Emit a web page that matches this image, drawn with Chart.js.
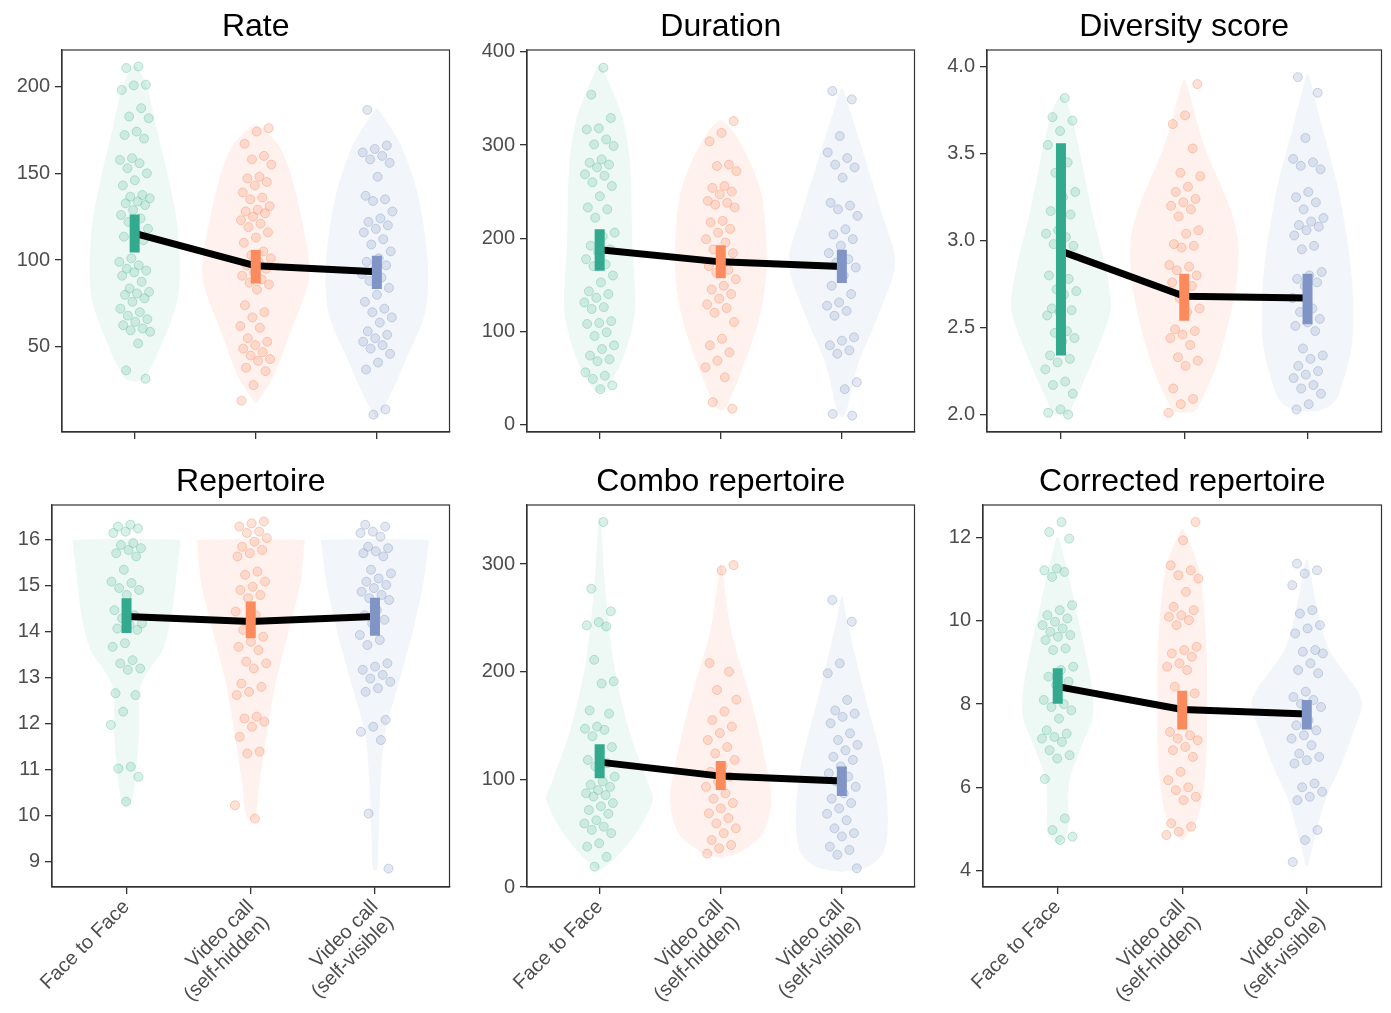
<!DOCTYPE html>
<html>
<head>
<meta charset="utf-8">
<script src="https://cdn.jsdelivr.net/npm/chart.js@4.4.1/dist/chart.umd.min.js"></script>
<style>
  html, body { margin: 0; padding: 0; background: #fff; }
  body { width: 1391px; height: 1013px; position: relative; overflow: hidden; }
  .panel { position: absolute; }
</style>
</head>
<body>
<script>
// categories and titles
const groupLabels = ['Face to Face', ['Video call', '(self-hidden)'], ['Video call', '(self-visible)']];
const panelTitles = ['Rate', 'Duration', 'Diversity score', 'Repertoire', 'Combo repertoire', 'Corrected repertoire'];

// ---- Rate
const rateF2F = [211.5,210.6,201,200.6,198,187.5,182.7,181.7,174,172,170,158.7,157.7,155.8,152.9,150,146,143,137.5,136.5,135.6,133.7,132.7,131.7,128.8,126,124,122,118,116,113.5,111.5,101,99,97,95,94,93,91,87.5,83.7,81.7,80.8,80,78,76,72,70,68,66,64.4,62.5,60.6,59.6,58.7,52,36.5,31.7];
const rateHidden = [176,174,167,160,158,155,148,147,145,143,139,136,135,131,129,128,127,125,123,121,119,116,113,110,105,103,101,99,97,95,93,91,89,87,86,83,74,70,67,62,61,55,53,51,49,47,45,43,42,38,36,28,19];
const rateVisible = [186.5,166,164,162,160,158,156,148,137,135,134,128,124,122,120,118,116,112,109,105,101,99,97,94,92,90,88,84,80,76,72,70,67,64,59,57,55,53,51,49,46,41,37,14,11];
const rateMean = [115.4, 96.7, 93.3];
const rateLow = [104.4, 86.5, 83.3];
const rateHigh = [126.3, 105.8, 102.5];
const rateViolin = [
  [[30,0.01],[32,0.08],[51,0.22],[80,0.36],[118,0.355],[150,0.27],[173,0.19],[200,0.1],[212,0.01]],
  [[18,0.01],[32,0.14],[61,0.3],[89,0.44],[109,0.42],[147,0.3],[165,0.2],[176,0.06],[178,0.01]],
  [[9,0.01],[22,0.11],[41,0.23],[70,0.4],[99,0.42],[137,0.34],[166,0.2],[187,0.01]]
];
const rateTicks = [50, 100, 150, 200];
const rateTickLabels = ['50', '100', '150', '200'];

// ---- Duration
const durF2F = [383,354,329,318,316.8,306,300.7,299,284.6,281,279,276,268.6,267,260,256,245,233,231,222,206,202,192,188,185,177.5,172,170,160,152.5,143,140,136,131,126,124,111,109,108,99,95,85,81,74,70,68,56,52.5,49,42,38];
const durHidden = [325.7,313,304,279,277.5,272,256,254,250,247,240,238,236,233,218.6,217,210,206,199,195.4,188,184,177,170,166,163,156,149,145,140,135,129,125,120,110,92,85,77.5,68.6,61.4,50.7,24,17];
const durVisible = [358,349,309.6,292,286,279,276,265,238,235,231,224,209.6,204,199,192,184,177.5,174,168.6,160,149,140,131,127.5,122,116.8,93.6,90,85,79.6,76,45.4,38,11.4,9.6];
const durMean = [187.5, 174.6, 169.6];
const durLow = [165, 157, 151.8];
const durHigh = [209.6, 192.5, 187.5];
const durViolin = [
  [[35,0.01],[38,0.05],[67,0.18],[120,0.29],[192,0.27],[281,0.25],[329,0.19],[360,0.1],[385,0.01]],
  [[15,0.01],[20,0.05],[67,0.2],[120,0.33],[174,0.38],[245,0.34],[288,0.22],[315,0.1],[327,0.01]],
  [[8,0.01],[15,0.04],[67,0.14],[120,0.31],[174,0.44],[227,0.33],[299,0.16],[340,0.06],[360,0.01]]
];
const durTicks = [0, 100, 200, 300, 400];
const durTickLabels = ['0', '100', '200', '300', '400'];

// ---- Diversity score
const divF2F = [3.82,3.71,3.69,3.63,3.55,3.45,3.39,3.28,3.25,3.17,3.15,3.06,3.04,3.02,2.98,2.97,2.82,2.80,2.78,2.72,2.71,2.69,2.61,2.60,2.59,2.57,2.48,2.47,2.44,2.42,2.34,2.32,2.30,2.26,2.19,2.17,2.12,2.03,2.01,2.0];
const divHidden = [3.9,3.72,3.67,3.53,3.39,3.37,3.31,3.28,3.24,3.22,3.20,3.18,3.14,3.06,3.04,2.98,2.97,2.96,2.86,2.85,2.83,2.80,2.78,2.76,2.74,2.67,2.61,2.59,2.49,2.48,2.46,2.44,2.40,2.33,2.31,2.28,2.15,2.09,2.06,2.01];
const divVisible = [3.94,3.85,3.59,3.47,3.45,3.43,3.41,3.28,3.25,3.22,3.18,3.13,3.11,3.09,3.08,3.06,3.03,2.97,2.95,2.82,2.80,2.78,2.76,2.74,2.67,2.61,2.59,2.55,2.53,2.51,2.48,2.38,2.34,2.32,2.28,2.25,2.23,2.21,2.17,2.15,2.12,2.06,2.03];
const divMean = [2.94, 2.68, 2.67];
const divLow = [2.34, 2.54, 2.52];
const divHigh = [3.56, 2.81, 2.81];
const divViolin = [
  [[2.0,0.05],[2.03,0.08],[2.3,0.25],[2.59,0.4],[2.78,0.38],[3.17,0.25],[3.55,0.14],[3.75,0.07],[3.83,0.01]],
  [[2.01,0.04],[2.03,0.1],[2.3,0.27],[2.69,0.41],[2.97,0.44],[3.17,0.38],[3.55,0.16],[3.8,0.06],[3.92,0.01]],
  [[2.02,0.08],[2.05,0.18],[2.11,0.25],[2.4,0.36],[2.78,0.36],[3.26,0.26],[3.65,0.12],[3.9,0.03],[3.95,0.01]]
];
const divTicks = [2.0, 2.5, 3.0, 3.5, 4.0];
const divTickLabels = ['2.0', '2.5', '3.0', '3.5', '4.0'];

// ---- Repertoire
const repF2F = [16.33,16.29,16.25,16.18,16.15,15.93,15.89,15.82,15.78,15.71,15.64,15.35,15.09,15.06,14.95,14.91,14.8,14.47,14.36,14.29,14.18,14.15,14.07,14.04,13.75,13.67,13.38,13.31,13.2,13.17,12.66,12.62,12.26,11.97,11.06,11.02,10.84,10.3];
const repHidden = [16.4,16.36,16.29,16.18,16.15,16.04,15.96,15.85,15.78,15.71,15.64,15.31,15.24,15.09,14.98,14.91,14.8,14.73,14.44,14.36,14.04,13.89,13.78,13.67,13.6,13.35,13.31,13.2,12.87,12.8,12.69,12.62,12.15,12.11,12.04,11.93,11.71,11.39,11.35,10.22,9.93];
const repVisible = [16.33,16.29,16.18,16.15,16.07,15.85,15.82,15.75,15.71,15.64,15.35,15.27,15.16,15.09,15.02,14.95,14.87,14.8,14.73,14.69,14.47,14.36,14.26,14.18,13.93,13.82,13.71,13.31,13.24,13.17,13.06,12.98,12.91,12.77,12.69,12.08,11.93,11.82,11.64,10.04,8.84];
const repMean = [14.33, 14.22, 14.33];
const repLow = [13.97, 13.86, 13.91];
const repHigh = [14.73, 14.66, 14.74];
const repViolin = [
  [[10.2,0.01],[10.3,0.04],[10.7,0.066],[11.78,0.1],[12.5,0.1],[12.87,0.12],[13.24,0.2],[13.6,0.29],[14.33,0.36],[15.42,0.41],[15.9,0.43],[16,0.43]],
  [[9.9,0.01],[10.0,0.04],[10.7,0.07],[11.78,0.13],[12.87,0.2],[13.96,0.3],[15.06,0.4],[15.9,0.43],[16,0.43]],
  [[8.8,0.01],[8.9,0.02],[9.6,0.03],[10.7,0.045],[11.78,0.08],[12.87,0.19],[13.96,0.3],[15.06,0.39],[15.9,0.43],[16,0.43]]
];
const repTicks = [9, 10, 11, 12, 13, 14, 15, 16];
const repTickLabels = ['9', '10', '11', '12', '13', '14', '15', '16'];

// ---- Combo repertoire
const comboF2F = [339,277,256,246,243,242,211,191,189,164,161,149,147,146,140,130,126,118,115,112,102.5,98,95,93,90,87,85.4,84,78,75,71.5,68,62,59,56,53,50,40.6,37.5,28,18.9];
const comboHidden = [299,294,208,200,183,174,163,155,149,143,136.5,130,124,118,112,107,102.5,98,93,87,82,78,73,68.4,64,59,54.5,50,43.6,39,36,31];
const comboVisible = [266.6,246.4,207.7,198.5,173.7,164,161,158,152,142.7,136.5,132,127,121,118,112,105.6,102.5,98,93,87,82,78,73,68,62,54.5,50,47,37.5,34.4,30,17.4];
const comboMean = [116, 103, 98.5];
const comboLow = [101, 90, 84.5];
const comboHigh = [132.5, 117, 112];
const comboViolin = [
  [[16,0.01],[25,0.115],[50,0.3],[81,0.44],[96,0.4],[143,0.25],[205,0.12],[266,0.055],[320,0.02],[344,0.005]],
  [[27,0.01],[31,0.14],[50,0.35],[81,0.42],[112,0.38],[174,0.25],[236,0.09],[280,0.03],[300,0.005]],
  [[14,0.01],[19,0.22],[34,0.35],[65,0.38],[112,0.34],[174,0.2],[220,0.1],[255,0.03],[270,0.005]]
];
const comboTicks = [0, 100, 200, 300];
const comboTickLabels = ['0', '100', '200', '300'];

// ---- Corrected repertoire
const corrF2F = [12.38,12.14,11.98,11.26,11.22,11.18,11.06,10.38,10.26,10.14,10.06,9.98,9.9,9.82,9.74,9.66,9.62,9.54,9.34,9.3,8.9,8.82,8.66,8.54,8.46,8.1,8.0,7.93,7.85,7.65,7.37,7.29,7.21,7.17,7.09,6.89,6.77,6.69,6.2,5.25,4.97,4.81,4.73];
const corrHidden = [12.38,11.94,11.34,11.22,11.1,11.02,10.7,10.34,10.26,10.14,10.1,10.02,9.9,9.38,9.3,9.22,9.14,8.98,8.9,8.82,8.42,8.26,8.1,7.33,7.25,7.17,7.13,6.97,6.89,6.73,6.37,6.17,6.0,5.93,5.77,5.69,5.13,5.05,4.93,4.85];
const corrVisible = [11.38,11.22,11.14,10.86,10.26,10.18,9.9,9.82,9.7,9.3,9.26,9.22,8.98,8.82,8.74,8.3,8.17,8.1,8.01,7.93,7.61,7.49,7.37,7.25,7.17,7.01,6.81,6.73,6.65,6.57,6.09,6.0,5.89,5.77,5.69,4.97,4.73,4.2];
const corrMean = [8.42, 7.87, 7.76];
const corrLow = [8.01, 7.39, 7.39];
const corrHigh = [8.86, 8.32, 8.1];
const corrViolin = [
  [[4.65,0.01],[4.9,0.08],[6.1,0.09],[6.9,0.18],[7.7,0.28],[8.5,0.27],[10.1,0.16],[10.9,0.1],[12.0,0.01]],
  [[4.73,0.01],[5.3,0.13],[6.5,0.19],[8.1,0.2],[9.7,0.19],[11.3,0.13],[12.2,0.01]],
  [[4.1,0.01],[4.5,0.04],[5.7,0.15],[6.5,0.27],[7.3,0.37],[8.1,0.44],[9.3,0.18],[10.5,0.07],[11.46,0.01]]
];
const corrTicks = [4, 6, 8, 10, 12];
const corrTickLabels = ['4', '6', '8', '10', '12'];

// colours (Set2)
const groupRgb = ['102,194,165', '252,141,98', '141,160,203'];
const barColors = ['#33aa8d', '#fb8a5c', '#8094c6'];

// where each plot panel sits on the page
const boxes = [
  { x0: 62, x1: 453, y0: 50, y1: 432, yMin: 1, yMax: 221, bottom: false },
  { x0: 527, x1: 918, y0: 50, y1: 432, yMin: -8, yMax: 402, bottom: false },
  { x0: 987, x1: 1385, y0: 50, y1: 432, yMin: 1.9, yMax: 4.096, bottom: false },
  { x0: 52, x1: 453, y0: 505, y1: 887, yMin: 8.44, yMax: 16.76, bottom: true },
  { x0: 527, x1: 918, y0: 505, y1: 887, yMin: 0, yMax: 354.8, bottom: true },
  { x0: 983, x1: 1385, y0: 505, y1: 887, yMin: 3.6, yMax: 12.79, bottom: true }
];

const FONT = '"Liberation Sans", Arial, sans-serif';
const Y_W = 52, TITLE_H = 43;

// thin dark frame round the plot area
const frame = {
  id: 'frame',
  afterDraw(chart) {
    const a = chart.chartArea, ctx = chart.ctx;
    ctx.save();
    ctx.strokeStyle = '#333';
    ctx.lineWidth = 1.2;
    ctx.strokeRect(a.left, a.top, a.right - a.left, a.bottom - a.top);
    ctx.restore();
  }
};

function jitter(i, g) {
  const f = ((i + 1) * 0.6180339887 + g * 0.29) % 1;
  return (f - 0.5) * 0.26;
}

function violinShape(profile, c) {
  const right = profile.map(([y, w]) => ({ x: c + w, y: y }));
  const left = profile.slice().reverse().map(([y, w]) => ({ x: c - w, y: y }));
  return right.concat(left);
}

function makePanel(n, groups, means, lows, highs, violins, ticks, tickLabels) {
  const b = boxes[n];
  const xh = b.bottom ? 124 : 12;
  const left = b.x0 - Y_W, top = b.y0 - TITLE_H;
  const width = b.x1 + 2 - left, height = b.y1 - top + xh;

  const div = document.createElement('div');
  div.className = 'panel';
  div.style.left = left + 'px';
  div.style.top = top + 'px';
  div.style.width = width + 'px';
  div.style.height = height + 'px';
  const canvas = document.createElement('canvas');
  div.appendChild(canvas);
  document.body.appendChild(div);

  const datasets = [];
  groups.forEach((vals, g) => {
    datasets.push({
      data: [{ x: g + 1, y: lows[g] }, { x: g + 1, y: highs[g] }],
      borderColor: barColors[g], borderWidth: 10, borderCapStyle: 'butt',
      pointRadius: 0, tension: 0, fill: false, order: 0
    });
  });
  datasets.push({
    data: means.map((m, g) => ({ x: g + 1, y: m })),
    borderColor: '#000', borderWidth: 7, borderJoinStyle: 'round',
    pointRadius: 0, tension: 0, fill: false, order: 1
  });
  groups.forEach((vals, g) => {
    datasets.push({
      data: vals.map((v, i) => ({ x: g + 1 + jitter(i, g), y: v })),
      showLine: false, pointRadius: 4.5, pointBorderWidth: 1,
      pointBackgroundColor: 'rgba(' + groupRgb[g] + ',0.25)',
      pointBorderColor: 'rgba(' + groupRgb[g] + ',0.42)',
      fill: false, order: 2
    });
  });
  groups.forEach((vals, g) => {
    datasets.push({
      data: violinShape(violins[g], g + 1),
      borderColor: 'rgba(0,0,0,0)', borderWidth: 0, pointRadius: 0,
      backgroundColor: 'rgba(' + groupRgb[g] + ',0.11)',
      fill: 'shape', tension: 0.3, order: 3
    });
  });

  new Chart(canvas.getContext('2d'), {
    type: 'line',
    data: { datasets: datasets },
    options: {
      responsive: true,
      maintainAspectRatio: false,
      animation: false,
      events: [],
      layout: { padding: { left: 0, right: 2, top: 0, bottom: 0 } },
      plugins: {
        legend: { display: false },
        tooltip: { enabled: false },
        title: {
          display: true, text: panelTitles[n], fullSize: false, color: '#000',
          font: { family: FONT, size: 32, weight: 'normal', lineHeight: 1.25 },
          padding: { top: 0, bottom: 3 }
        }
      },
      scales: {
        x: {
          type: 'linear', min: 0.4, max: 3.6,
          afterBuildTicks: axis => { axis.ticks = [1, 2, 3].map(v => ({ value: v })); },
          afterFit: s => { s.height = xh; s.paddingLeft = 0; s.paddingRight = 0; },
          grid: { drawOnChartArea: false, drawTicks: true, tickLength: 7, color: '#333', lineWidth: 1.3 },
          border: { display: true, color: '#333', width: 1.2 },
          ticks: {
            autoSkip: false, maxRotation: 45, minRotation: 45, padding: 2,
            color: '#4d4d4d', font: { family: FONT, size: 20, lineHeight: 1.1 },
            callback: (v, i) => b.bottom ? groupLabels[i] : ''
          }
        },
        y: {
          type: 'linear', min: b.yMin, max: b.yMax,
          afterBuildTicks: axis => { axis.ticks = ticks.map(v => ({ value: v })); },
          afterFit: s => { s.width = Y_W; s.paddingTop = 0; s.paddingBottom = 0; },
          grid: { drawOnChartArea: false, drawTicks: true, tickLength: 7, color: '#333', lineWidth: 1.3 },
          border: { display: true, color: '#333', width: 1.2 },
          ticks: {
            padding: 5, color: '#4d4d4d', font: { family: FONT, size: 20 },
            callback: (v, i) => tickLabels[i]
          }
        }
      }
    },
    plugins: [frame]
  });
}

makePanel(0, [rateF2F, rateHidden, rateVisible], rateMean, rateLow, rateHigh, rateViolin, rateTicks, rateTickLabels);
makePanel(1, [durF2F, durHidden, durVisible], durMean, durLow, durHigh, durViolin, durTicks, durTickLabels);
makePanel(2, [divF2F, divHidden, divVisible], divMean, divLow, divHigh, divViolin, divTicks, divTickLabels);
makePanel(3, [repF2F, repHidden, repVisible], repMean, repLow, repHigh, repViolin, repTicks, repTickLabels);
makePanel(4, [comboF2F, comboHidden, comboVisible], comboMean, comboLow, comboHigh, comboViolin, comboTicks, comboTickLabels);
makePanel(5, [corrF2F, corrHidden, corrVisible], corrMean, corrLow, corrHigh, corrViolin, corrTicks, corrTickLabels);
</script>
</body>
</html>
